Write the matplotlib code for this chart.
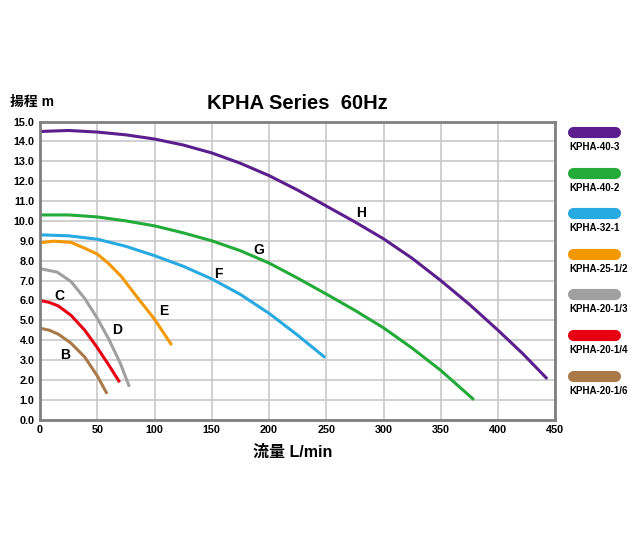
import matplotlib.pyplot as plt
from matplotlib.lines import Line2D

plt.rcParams['font.family'] = ['Liberation Sans', 'Noto Sans CJK JP']
plt.rcParams['font.weight'] = 'bold'

# pump curves: flow (L/min) vs head (m)
h_x = [0, 25, 50, 75, 100, 125, 150, 175, 200, 225, 250, 275, 300, 325, 350, 375, 400, 422, 443]
h_y = [14.5, 14.55, 14.47, 14.33, 14.12, 13.82, 13.42, 12.9, 12.28, 11.55, 10.75, 9.95,
       9.1, 8.12, 7.0, 5.8, 4.5, 3.3, 2.05]
g_x = [0, 25, 50, 75, 100, 125, 150, 175, 200, 225, 250, 275, 300, 325, 350, 379]
g_y = [10.3, 10.3, 10.2, 10.0, 9.75, 9.4, 9.0, 8.5, 7.88, 7.12, 6.32, 5.5, 4.62, 3.6, 2.48, 1.0]
f_x = [0, 25, 50, 75, 100, 125, 150, 175, 200, 225, 249]
f_y = [9.3, 9.25, 9.08, 8.72, 8.25, 7.72, 7.08, 6.3, 5.35, 4.25, 3.12]
e_x = [0, 12, 27, 40, 50, 60, 71, 85, 100, 115]
e_y = [8.9, 8.98, 8.92, 8.6, 8.33, 7.85, 7.2, 6.15, 5.05, 3.75]
d_x = [0, 15, 27, 39, 50, 60, 70, 78]
d_y = [7.6, 7.42, 6.95, 6.1, 5.1, 4.05, 2.85, 1.65]
c_x = [0, 8, 16, 27, 39, 50, 60, 69.5]
c_y = [6.0, 5.9, 5.72, 5.25, 4.5, 3.62, 2.75, 1.88]
b_x = [0, 8, 16, 27, 39, 50, 58.5]
b_y = [4.6, 4.5, 4.3, 3.85, 3.15, 2.2, 1.3]

curves = [(h_x, h_y), (g_x, g_y), (f_x, f_y), (e_x, e_y), (d_x, d_y), (c_x, c_y), (b_x, b_y)]
models = ['KPHA-40-3', 'KPHA-40-2', 'KPHA-32-1', 'KPHA-25-1/2',
          'KPHA-20-1/3', 'KPHA-20-1/4', 'KPHA-20-1/6']
colors = ['#5b1e8c', '#22ab38', '#27a9e1', '#f39800', '#a0a0a0', '#e60012', '#a97a47']
letters = ['H', 'G', 'F', 'E', 'D', 'C', 'B']
letter_pos = [(280, 10.4), (191, 8.55), (156, 7.35), (108, 5.45), (67, 4.5), (17, 6.2), (22, 3.25)]

fig = plt.figure(figsize=(6.36, 5.45), dpi=100)
ax = fig.add_axes([0.063, 0.23, 0.81, 0.547])

for (xs, ys), c in zip(curves, colors):
    ax.plot(xs, ys, color=c, lw=2.2, solid_capstyle='butt', solid_joinstyle='round')
for (lx, ly), t in zip(letter_pos, letters):
    ax.text(lx, ly, t, fontsize=10, fontweight='bold', ha='center', va='center')

ax.set_xlim(0, 450)
ax.set_ylim(0, 15)
ax.set_xticks(range(0, 451, 50))
ax.set_yticks(range(0, 16))
ax.set_yticklabels(['%.1f' % v for v in range(0, 16)])
ax.tick_params(length=0, labelsize=7.8, pad=4)
for lbl in ax.get_xticklabels() + ax.get_yticklabels():
    lbl.set_fontweight('bold')
ax.grid(color='#c8c8c8', lw=1.2)
ax.set_axisbelow(True)
for s in ax.spines.values():
    s.set_color('#808080')
    s.set_linewidth(2)

ax.set_title('KPHA Series  60Hz', fontsize=14.5, fontweight='bold', pad=9, x=0.5)
ax.set_xlabel('流量 L/min', fontsize=11.5, fontweight='bold', labelpad=7)
ax.xaxis.set_label_coords(0.49, -0.085)
fig.text(0.016, 0.812, '揚程 m', fontsize=10, fontweight='bold', va='center')

# legend on the right
for i, (m, c) in enumerate(zip(models, colors)):
    yb = 1 - (132 + i * 40.6) / 545
    fig.add_artist(Line2D([573 / 636, 615 / 636], [yb, yb], color=c, lw=8,
                          solid_capstyle='round', transform=fig.transFigure))
    fig.text(569 / 636, yb - 15 / 545, m, fontsize=7, fontweight='bold', va='center')

fig.savefig('out.png', dpi=100)
